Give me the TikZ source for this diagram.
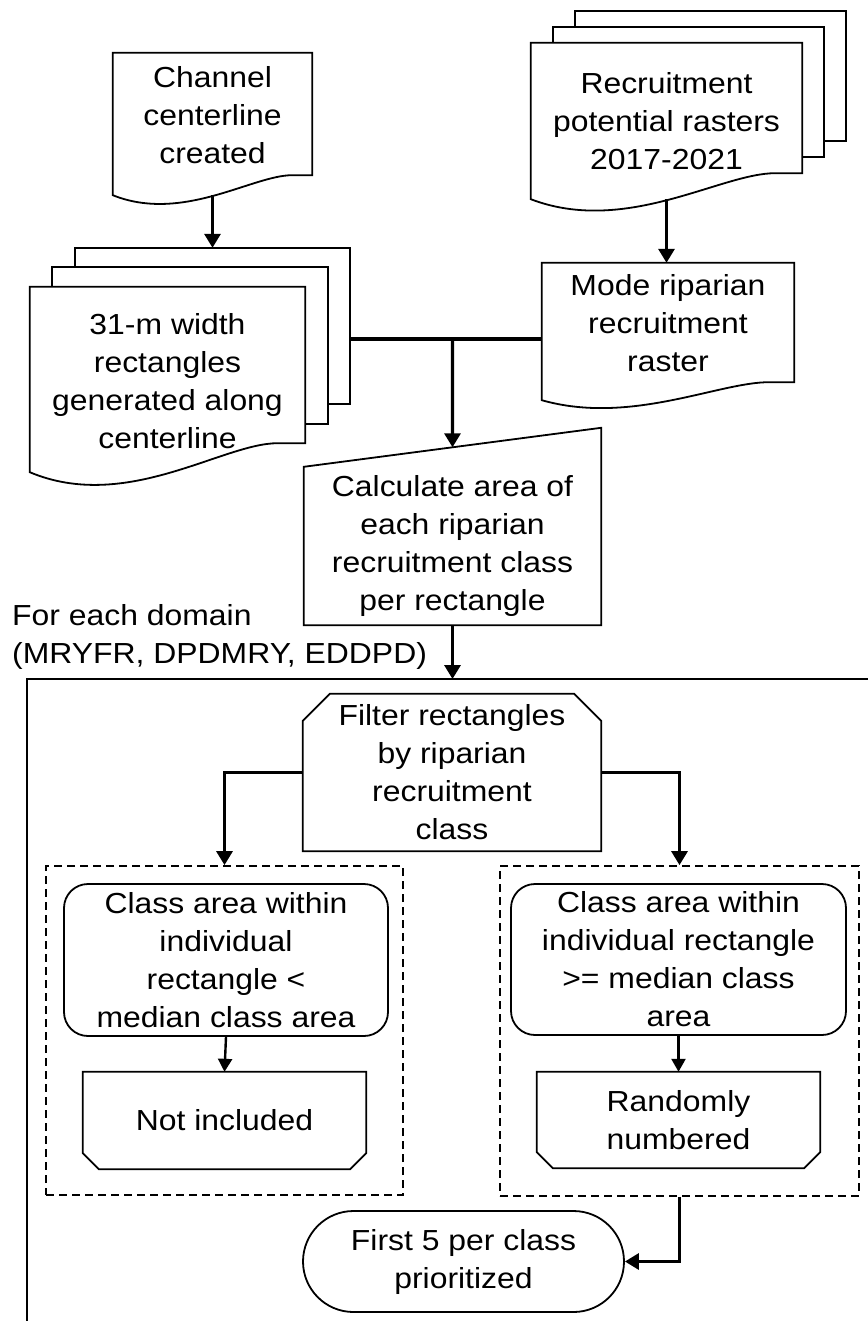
\documentclass[tikz,border=0pt]{standalone}
\usepackage{fontspec}
\setmainfont{Liberation Sans}[FakeStretch=1.1]
\usetikzlibrary{arrows.meta, calc, shapes.misc}

\newcommand{\docpath}[3]{%
	\draw[shp] let \p1=(#1.south west), \p2=(#1.south east), \p3=(#1.north west), \n1={\x2-\x1}, \n2={(#2)-(#3)} in
		(\p3) -- (\x2,\y3) -- (\x2,{\y2+#2}) -- ({\x1+0.9*\n1},{\y2+#2})
		.. controls ({\x1+0.7*\n1},{\y2+#2}) and ({\x1+0.35*\n1},{\y1+#3-1.4*\n2}) .. (\x1,{\y1+#3}) -- cycle;
}
\newcommand{\pagesbehind}[4]{%
	\foreach \k in {1,2}
		\draw[shp] let \p1=(#1.north west), \p2=(#1.south east) in
			({\x1+\k*#2},{\y1+(\k-1)*#3}) -- ({\x1+\k*#2},{\y1+\k*#3}) -- ({\x2+\k*#2},{\y1+\k*#3})
			-- ({\x2+\k*#2},{\y2+#4+\k*#3}) -- ({\x2+(\k-1)*#2},{\y2+#4+\k*#3});
}

\begin{document}
\begin{tikzpicture}[x=1pt, y=-1pt,
		txt/.style={align=center, inner sep=0pt, font=\fontsize{29pt}{38pt}\selectfont},
		shp/.style={line width=1.8pt},
		link/.style={line width=3.2pt},
		arr/.style={link, -{Triangle[length=14pt,width=16pt]}},
		thinarr/.style={line width=2.4pt, -{Triangle[length=13pt,width=14pt]}},
		grp/.style={draw, line width=1.8pt, dash pattern=on 8pt off 5pt, inner sep=0pt}]
		\useasboundingbox (0,0) rectangle (867,1321);
		\node[txt, minimum width=199pt, minimum height=124pt] (chan) at (212.5,115) {Channel\\centerline\\created};
		\docpath{chan}{2pt}{-18pt}
		\node[txt, minimum width=271pt, minimum height=156pt] (rast) at (666.5,121) {Recruitment\\potential rasters\\2017-2021};
		\docpath{rast}{26pt}{0pt}
		\pagesbehind{rast}{22pt}{16pt}{26pt}
		\node[txt, minimum width=252pt, minimum height=120pt] (mode) at (668,323) {Mode riparian\\recruitment\\raster};
		\docpath{mode}{1pt}{-17pt}
		\node[txt, minimum width=275pt, minimum height=188pt] (rect) at (167.5,381) {31-m width\\rectangles\\generated along\\centerline};
		\docpath{rect}{32pt}{3pt}
		\pagesbehind{rect}{22.5pt}{19.5pt}{32pt}
		\node[txt, minimum width=297pt, minimum height=158pt] (area) at (452.5,546) {Calculate area of\\each riparian\\recruitment class\\per rectangle};
		\draw[shp] (area.south west) -- (area.north west) -- ([yshift=39pt]area.north east) -- (area.south east) -- cycle;
		\node[txt, anchor=west, align=left] (domlbl) at (12,637) {For each domain\\(MRYFR, DPDMRY, EDDPD)};
		\node[txt, minimum width=298pt, minimum height=157pt] (filt) at (452,772.5) {Filter rectangles\\by riparian\\recruitment\\class};
		\draw[shp] (filt.south west) -- ([yshift=-27pt]filt.north west) -- ([xshift=27pt]filt.north west) -- ([xshift=-27pt]filt.north east) -- ([yshift=-27pt]filt.north east) -- (filt.south east) -- cycle;
		\node[grp, minimum width=357pt, minimum height=329pt] (leftgrp) at (224.5,1030.5) {};
		\node[grp, minimum width=359pt, minimum height=330pt] (rightgrp) at (679.5,1031) {};
		\node[txt, draw, shp, rounded corners=24pt, minimum width=324pt, minimum height=152pt] (below) at (226,960) {Class area within\\individual\\rectangle <\\median class area};
		\node[txt, draw, shp, rounded corners=24pt, minimum width=335pt, minimum height=151pt] (atleast) at (678.5,959.5) {Class area within\\individual rectangle\\>= median class\\area};
		\node[txt, minimum width=283pt, minimum height=97pt] (notinc) at (224.5,1120.5) {Not included};
		\node[txt, minimum width=283pt, minimum height=96pt] (rand) at (678.5,1120) {Randomly\\numbered};
		\foreach \bx in {notinc, rand}
			\draw[shp] (\bx.north west) -- (\bx.north east) -- ([yshift=16pt]\bx.south east) -- ([xshift=-16pt]\bx.south east) -- ([xshift=16pt]\bx.south west) -- ([yshift=16pt]\bx.south west) -- cycle;
		\node[txt, draw, shp, rounded rectangle, minimum width=321pt, minimum height=101pt] (first) at (463.5,1261.5) {First 5 per class\\prioritized};
		\coordinate (rectback) at ([shift={(45pt,39pt)}]rect.north);
		\coordinate (rectbackeast) at ([xshift=45pt]rect.east);
		\coordinate (join) at (452.5,339);
		\coordinate (areatop) at ($(area.north west)!0.5!([yshift=39pt]area.north east)$);
		\coordinate (fnw) at (27,679);
		\draw[line width=2pt] (27,1330) -- (fnw) -- (875,679);
		\draw[arr] ([yshift=-18pt]chan.south) -- (chan.south |- rectback);
		\draw[arr] (rast.south) -- (rast.south |- mode.north);
		\draw[link] (rectbackeast |- join) -- (mode.west |- join);
		\draw[arr] (join) -- (areatop);
		\draw[arr] (area.south) -- (area.south |- fnw);
		\draw[arr] (filt.west) -| (leftgrp.north);
		\draw[arr] (filt.east) -| (rightgrp.north);
		\draw[thinarr] (below.south) -- (notinc.north);
		\draw[thinarr] (atleast.south) -- (rand.north);
		\draw[arr] (rightgrp.south) |- (first.east);
	\end{tikzpicture}
\end{document}
